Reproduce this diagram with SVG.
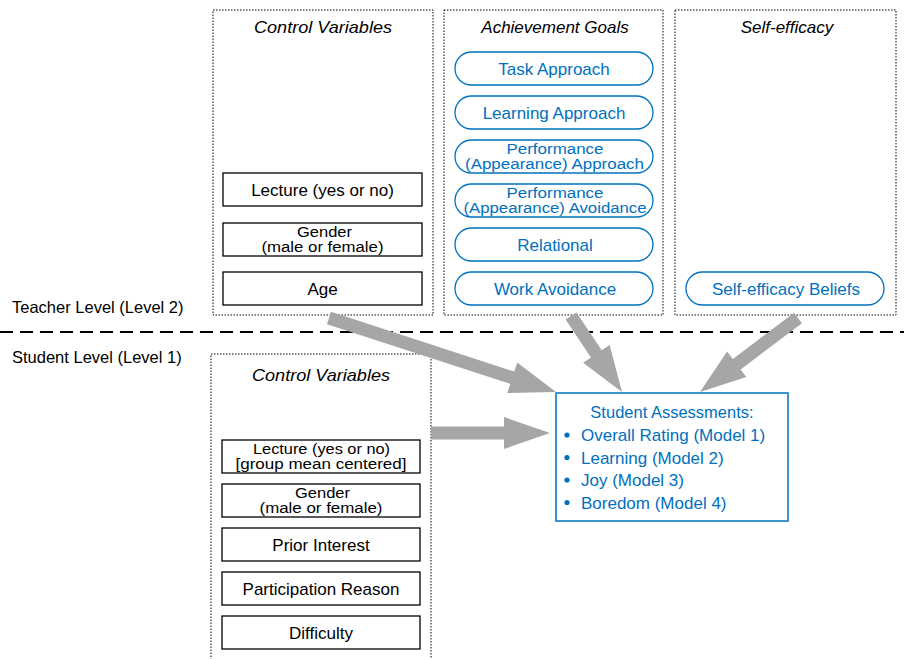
<svg xmlns="http://www.w3.org/2000/svg" width="904" height="659" viewBox="0 0 904 659">
  <style>
    text { font-family: "Liberation Sans", Arial, sans-serif; font-size: 17px; }
    .lvl { fill: #000; text-anchor: start; font-size: 16.5px; }
    .ttl { font-style: italic; text-anchor: middle; fill: #000; }
    .grp { fill: none; stroke: #000; stroke-width: 1; stroke-dasharray: 1.5 1.5; }
    .box { fill: #fff; stroke: #000; stroke-width: 1.3; }
    .btx { text-anchor: middle; fill: #000; }
    .btx2 { text-anchor: middle; fill: #000; font-size: 14px; }
    .pill { fill: #fff; stroke: #0070C0; stroke-width: 1.3; }
    .ptx { text-anchor: middle; fill: #0070C0; }
    .ptx2 { text-anchor: middle; fill: #0070C0; font-size: 14px; }
    .out { fill: #fff; stroke: #0070C0; stroke-width: 1.5; }
    .otx { fill: #0070C0; }
    .arr { fill: #A6A6A6; }
  </style>

  <!-- level labels and separator -->
  <g id="levels">
    <text class="lvl" x="12" y="313">Teacher Level (Level 2)</text>
    <text class="lvl" x="12" y="363">Student Level (Level 1)</text>
    <line x1="0" y1="332" x2="904" y2="332" stroke="#000" stroke-width="2" stroke-dasharray="13 7"/>
  </g>

  <!-- teacher-level control variables -->
  <g id="teacher-controls">
    <rect class="grp" x="213" y="10" width="220" height="305"/>
    <text class="ttl" x="323" y="33" textLength="138" lengthAdjust="spacingAndGlyphs">Control Variables</text>
    <g id="t-lecture">
      <rect class="box" x="223" y="173" width="199" height="33"/>
      <text class="btx" x="322.5" y="195.5">Lecture (yes or no)</text>
    </g>
    <g id="t-gender">
      <rect class="box" x="223" y="223" width="199" height="33"/>
      <text class="btx2" x="324.5" y="236.5" textLength="55" lengthAdjust="spacingAndGlyphs">Gender</text>
      <text class="btx2" x="322.5" y="252" textLength="122" lengthAdjust="spacingAndGlyphs">(male or female)</text>
    </g>
    <g id="t-age">
      <rect class="box" x="223" y="272" width="199" height="33"/>
      <text class="btx" x="322.5" y="294.5">Age</text>
    </g>
  </g>

  <!-- achievement goals -->
  <g id="achievement-goals">
    <rect class="grp" x="444" y="10" width="219" height="305"/>
    <text class="ttl" x="555" y="33">Achievement Goals</text>
    <g id="task-approach">
      <rect class="pill" x="455" y="52" width="198" height="33" rx="16.5"/>
      <text class="ptx" x="554" y="74.5">Task Approach</text>
    </g>
    <g id="learning-approach">
      <rect class="pill" x="455" y="96" width="198" height="33" rx="16.5"/>
      <text class="ptx" x="554" y="118.5">Learning Approach</text>
    </g>
    <g id="performance-approach">
      <rect class="pill" x="455" y="140" width="198" height="33" rx="16.5"/>
      <text class="ptx2" x="555" y="153.5" textLength="97" lengthAdjust="spacingAndGlyphs">Performance</text>
      <text class="ptx2" x="554.5" y="169" textLength="179" lengthAdjust="spacingAndGlyphs">(Appearance) Approach</text>
    </g>
    <g id="performance-avoidance">
      <rect class="pill" x="455" y="184" width="198" height="33" rx="16.5"/>
      <text class="ptx2" x="555" y="197.5" textLength="97" lengthAdjust="spacingAndGlyphs">Performance</text>
      <text class="ptx2" x="555" y="213" textLength="183" lengthAdjust="spacingAndGlyphs">(Appearance) Avoidance</text>
    </g>
    <g id="relational">
      <rect class="pill" x="455" y="228" width="198" height="33" rx="16.5"/>
      <text class="ptx" x="555" y="250.5">Relational</text>
    </g>
    <g id="work-avoidance">
      <rect class="pill" x="455" y="272" width="198" height="33" rx="16.5"/>
      <text class="ptx" x="555" y="294.5">Work Avoidance</text>
    </g>
  </g>

  <!-- self-efficacy -->
  <g id="self-efficacy">
    <rect class="grp" x="675" y="10" width="221" height="305"/>
    <text class="ttl" x="787" y="33">Self-efficacy</text>
    <g id="self-efficacy-beliefs">
      <rect class="pill" x="686" y="272" width="198" height="33" rx="16.5"/>
      <text class="ptx" x="786" y="294.5">Self-efficacy Beliefs</text>
    </g>
  </g>

  <!-- student-level control variables -->
  <g id="student-controls">
    <rect class="grp" x="211" y="354" width="220" height="320"/>
    <text class="ttl" x="321" y="381" textLength="138" lengthAdjust="spacingAndGlyphs">Control Variables</text>
    <g id="s-lecture">
      <rect class="box" x="222" y="440" width="198" height="33"/>
      <text class="btx2" x="321.5" y="453.5" textLength="137" lengthAdjust="spacingAndGlyphs">Lecture (yes or no)</text>
      <text class="btx2" x="321" y="469" textLength="171" lengthAdjust="spacingAndGlyphs">[group mean centered]</text>
    </g>
    <g id="s-gender">
      <rect class="box" x="222" y="484" width="198" height="33"/>
      <text class="btx2" x="322.5" y="497.5" textLength="55" lengthAdjust="spacingAndGlyphs">Gender</text>
      <text class="btx2" x="321" y="513" textLength="123" lengthAdjust="spacingAndGlyphs">(male or female)</text>
    </g>
    <g id="s-prior-interest">
      <rect class="box" x="222" y="528" width="198" height="33"/>
      <text class="btx" x="321" y="550.5">Prior Interest</text>
    </g>
    <g id="s-participation">
      <rect class="box" x="222" y="572" width="198" height="33"/>
      <text class="btx" x="321" y="594.5">Participation Reason</text>
    </g>
    <g id="s-difficulty">
      <rect class="box" x="222" y="616" width="198" height="33"/>
      <text class="btx" x="321" y="638.5">Difficulty</text>
    </g>
  </g>

  <!-- outcome box -->
  <g id="student-assessments">
    <rect class="out" x="556" y="393" width="232" height="128"/>
    <text class="otx" x="672" y="418" text-anchor="middle" style="font-size:16.5px">Student Assessments:</text>
    <g fill="#0070C0">
      <circle cx="567" cy="435" r="2.6"/>
      <circle cx="567" cy="457.5" r="2.6"/>
      <circle cx="567" cy="480" r="2.6"/>
      <circle cx="567" cy="502.5" r="2.6"/>
    </g>
    <text class="otx" x="581" y="441">Overall Rating (Model 1)</text>
    <text class="otx" x="581" y="463.5">Learning (Model 2)</text>
    <text class="otx" x="581" y="486">Joy (Model 3)</text>
    <text class="otx" x="581" y="508.5">Boredom (Model 4)</text>
  </g>

  <!-- block arrows -->
  <g id="connectors">
    <polygon class="arr" points="326.99,324.18 510.25,383.92 507.31,392.95 556,392 517.23,362.53 514.28,371.56 331.01,311.82"/>
    <polygon class="arr" points="431,439.5 504,439.5 504,449 550,433 504,417 504,426.5 431,426.5"/>
    <polygon class="arr" points="565.60,319.62 590.97,357.43 583.09,362.73 622,392 609.65,344.90 601.77,350.19 576.40,312.38"/>
    <polygon class="arr" points="794.08,312.81 732.79,359.09 727.07,351.51 700,392 746.35,377.05 740.63,369.47 801.92,323.19"/>
  </g>
</svg>
